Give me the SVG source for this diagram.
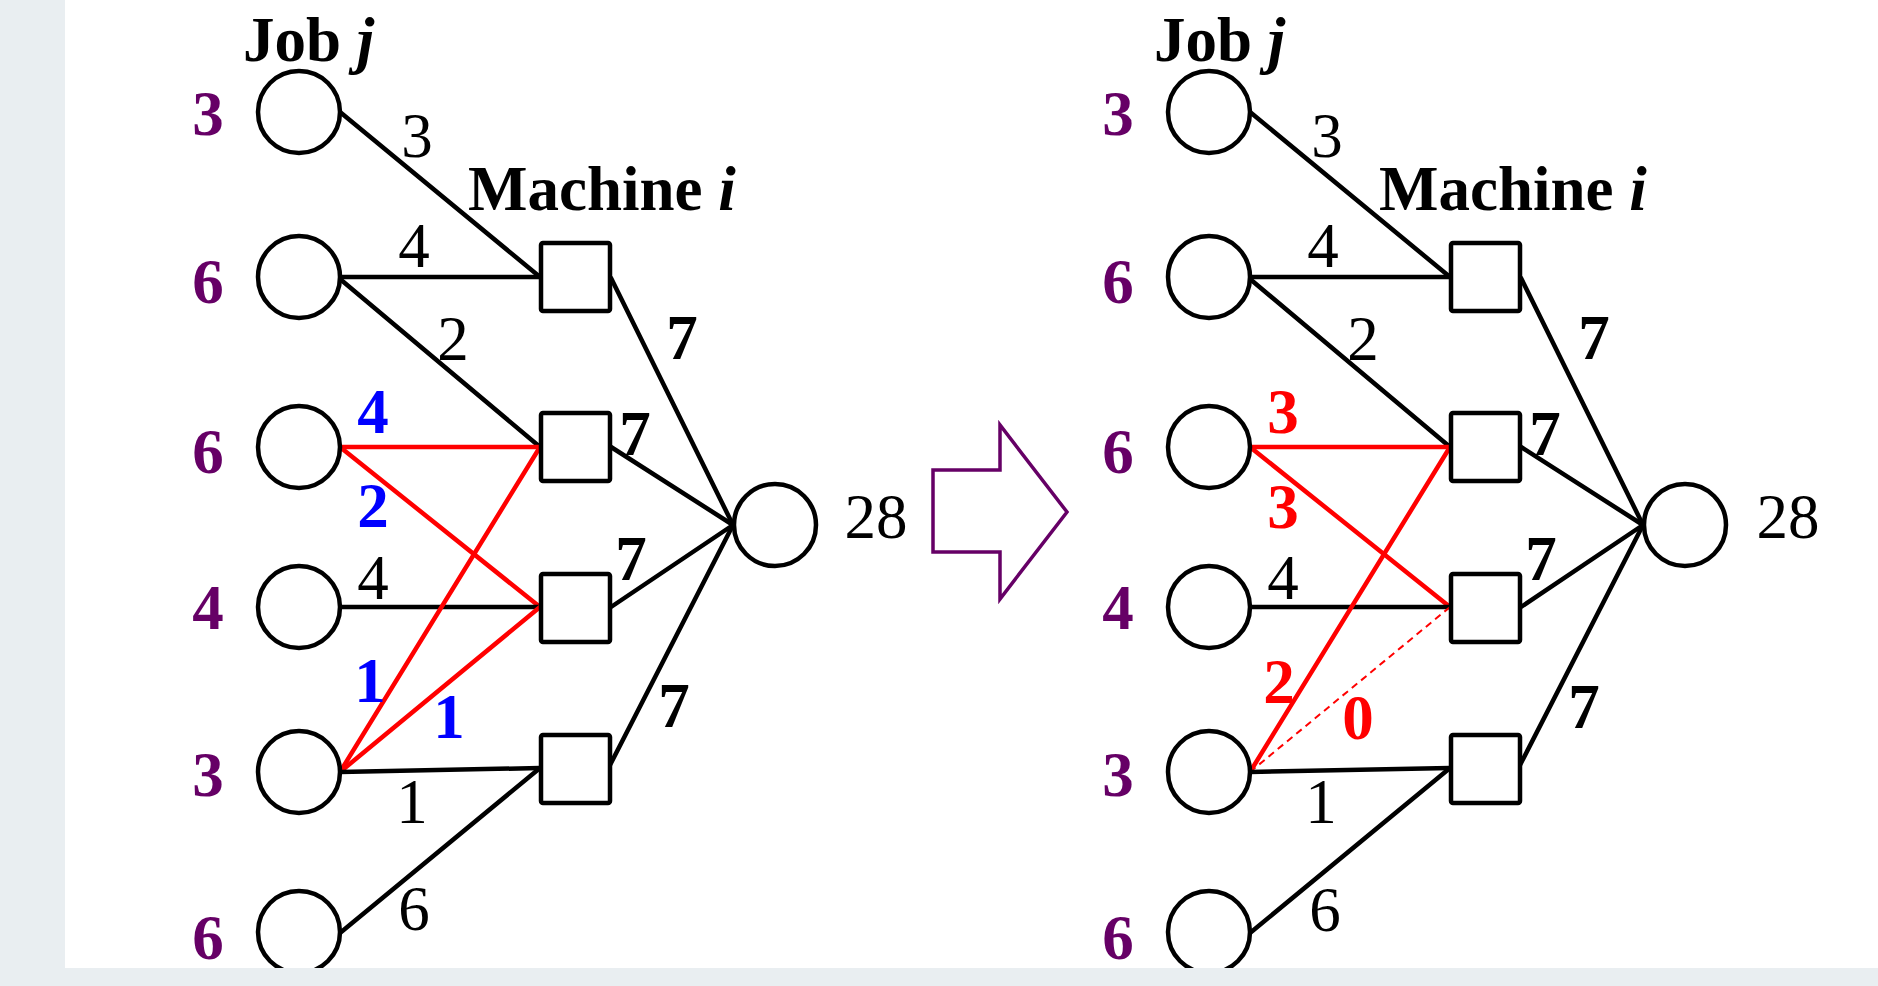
<svg xmlns="http://www.w3.org/2000/svg" width="1878" height="986" viewBox="0 0 1878 986">
<style>
text{font-family:"Liberation Serif","Times New Roman",serif;font-size:63px;}
.n{fill:#fff;stroke:#000;stroke-width:4.5;}
.e{stroke:#000;stroke-width:4.5;fill:none;stroke-linecap:round;}
.r{stroke:#ff0000;stroke-width:4.5;fill:none;stroke-linecap:round;}
.rd{stroke:#ff0000;stroke-width:2;fill:none;stroke-dasharray:7 5;}
.c{text-anchor:middle;fill:#000;}
.b{font-weight:bold;}
.p{font-weight:bold;fill:#660066;text-anchor:middle;}
.bl{font-weight:bold;fill:#0000ff;text-anchor:middle;}
.rt{font-weight:bold;fill:#ff0000;text-anchor:middle;}
.t{font-weight:bold;fill:#000;}
</style>
<rect x="0" y="0" width="1878" height="986" fill="#e9eef1"/>
<rect x="65" y="0" width="1813" height="968" fill="#fff"/>

<g id="connectors">
  <!-- left panel -->
  <line class="e" x1="340" y1="112" x2="540" y2="277"/>
  <line class="e" x1="340" y1="277" x2="540" y2="277"/>
  <line class="e" x1="340" y1="279" x2="540" y2="447"/>
  <line class="r" x1="340" y1="447" x2="540" y2="447"/>
  <line class="r" x1="340" y1="447" x2="540" y2="607"/>
  <line class="e" x1="340" y1="607" x2="540" y2="607"/>
  <line class="r" x1="340" y1="772" x2="540" y2="447"/>
  <line class="r" x1="340" y1="772" x2="540" y2="607"/>
  <line class="e" x1="340" y1="772" x2="540" y2="768"/>
  <line class="e" x1="340" y1="933" x2="540" y2="768"/>
  <line class="e" x1="611" y1="278" x2="733" y2="525"/>
  <line class="e" x1="611" y1="447" x2="733" y2="525"/>
  <line class="e" x1="611" y1="607" x2="733" y2="525"/>
  <line class="e" x1="609" y1="767" x2="733" y2="525"/>
  <!-- right panel -->
  <line class="e" x1="1250" y1="112" x2="1450" y2="277"/>
  <line class="e" x1="1250" y1="277" x2="1450" y2="277"/>
  <line class="e" x1="1250" y1="279" x2="1450" y2="447"/>
  <line class="r" x1="1250" y1="447" x2="1450" y2="447"/>
  <line class="r" x1="1250" y1="447" x2="1450" y2="607"/>
  <line class="e" x1="1250" y1="607" x2="1450" y2="607"/>
  <line class="r" x1="1250" y1="772" x2="1450" y2="447"/>
  <line class="rd" x1="1250" y1="772" x2="1450" y2="607"/>
  <line class="e" x1="1250" y1="772" x2="1450" y2="768"/>
  <line class="e" x1="1250" y1="933" x2="1450" y2="768"/>
  <line class="e" x1="1521" y1="278" x2="1643" y2="525"/>
  <line class="e" x1="1521" y1="447" x2="1643" y2="525"/>
  <line class="e" x1="1521" y1="607" x2="1643" y2="525"/>
  <line class="e" x1="1519" y1="767" x2="1643" y2="525"/>
</g>

<g id="edge-labels">
  <text class="c" x="417" y="157">3</text>
  <text class="c" x="414" y="267">4</text>
  <text class="c" x="453" y="360">2</text>
  <text class="c" x="373" y="599">4</text>
  <text class="c" x="412" y="823">1</text>
  <text class="c" x="414" y="930">6</text>
  <text class="c b" x="682" y="359">7</text>
  <text class="c b" x="635" y="455">7</text>
  <text class="c b" x="631" y="580">7</text>
  <text class="c b" x="674" y="727">7</text>
  <text class="bl" x="373" y="433">4</text>
  <text class="bl" x="373" y="527">2</text>
  <text class="bl" x="370" y="702">1</text>
  <text class="bl" x="449" y="738">1</text>

  <text class="c" x="1327" y="157">3</text>
  <text class="c" x="1323" y="267">4</text>
  <text class="c" x="1363" y="360">2</text>
  <text class="c" x="1283" y="599">4</text>
  <text class="c" x="1321" y="823">1</text>
  <text class="c" x="1325" y="931">6</text>
  <text class="c b" x="1594" y="359">7</text>
  <text class="c b" x="1545" y="455">7</text>
  <text class="c b" x="1541" y="580">7</text>
  <text class="c b" x="1584" y="728">7</text>
  <text class="rt" x="1283" y="433">3</text>
  <text class="rt" x="1283" y="528">3</text>
  <text class="rt" x="1279" y="703">2</text>
  <text class="rt" x="1358" y="739">0</text>
</g>

<!-- left panel nodes -->
<g id="title-left">
  <text class="t" x="243" y="61">Job <tspan font-style="italic">j</tspan></text>
  <text class="t" x="468" y="210">Machine <tspan font-style="italic">i</tspan></text>
</g>
<g id="L-job1"><circle class="n" cx="299" cy="112" r="41"/><text class="p" x="208" y="135">3</text></g>
<g id="L-job2"><circle class="n" cx="299" cy="277" r="41"/><text class="p" x="208" y="303">6</text></g>
<g id="L-job3"><circle class="n" cx="299" cy="447" r="41"/><text class="p" x="208" y="473">6</text></g>
<g id="L-job4"><circle class="n" cx="299" cy="607" r="41"/><text class="p" x="208" y="629">4</text></g>
<g id="L-job5"><circle class="n" cx="299" cy="772" r="41"/><text class="p" x="208" y="796">3</text></g>
<g id="L-job6"><circle class="n" cx="299" cy="932" r="41"/><text class="p" x="208" y="959">6</text></g>
<g id="L-mach1"><rect class="n" x="541" y="243" width="69" height="68" rx="2"/></g>
<g id="L-mach2"><rect class="n" x="541" y="413" width="69" height="68" rx="2"/></g>
<g id="L-mach3"><rect class="n" x="541" y="574" width="69" height="68" rx="2"/></g>
<g id="L-mach4"><rect class="n" x="541" y="735" width="69" height="68" rx="2"/></g>
<g id="L-sink"><circle class="n" cx="775" cy="525" r="41"/><text class="c" x="876" y="538">28</text></g>

<!-- transition arrow -->
<g id="arrow">
  <polygon points="933,470 1000,470 1000,425 1067,512 1000,599 1000,552 933,552" fill="none" stroke="#660066" stroke-width="3.5"/>
</g>

<!-- right panel nodes -->
<g id="title-right">
  <text class="t" x="1154" y="61">Job <tspan font-style="italic">j</tspan></text>
  <text class="t" x="1379" y="210">Machine <tspan font-style="italic">i</tspan></text>
</g>
<g id="R-job1"><circle class="n" cx="1209" cy="112" r="41"/><text class="p" x="1118" y="135">3</text></g>
<g id="R-job2"><circle class="n" cx="1209" cy="277" r="41"/><text class="p" x="1118" y="303">6</text></g>
<g id="R-job3"><circle class="n" cx="1209" cy="447" r="41"/><text class="p" x="1118" y="473">6</text></g>
<g id="R-job4"><circle class="n" cx="1209" cy="607" r="41"/><text class="p" x="1118" y="629">4</text></g>
<g id="R-job5"><circle class="n" cx="1209" cy="772" r="41"/><text class="p" x="1118" y="796">3</text></g>
<g id="R-job6"><circle class="n" cx="1209" cy="932" r="41"/><text class="p" x="1118" y="959">6</text></g>
<g id="R-mach1"><rect class="n" x="1451" y="243" width="69" height="68" rx="2"/></g>
<g id="R-mach2"><rect class="n" x="1451" y="413" width="69" height="68" rx="2"/></g>
<g id="R-mach3"><rect class="n" x="1451" y="574" width="69" height="68" rx="2"/></g>
<g id="R-mach4"><rect class="n" x="1451" y="735" width="69" height="68" rx="2"/></g>
<g id="R-sink"><circle class="n" cx="1685" cy="525" r="41"/><text class="c" x="1788" y="538">28</text></g>

<rect x="0" y="968" width="1878" height="18" fill="#e9eef1"/>
</svg>
